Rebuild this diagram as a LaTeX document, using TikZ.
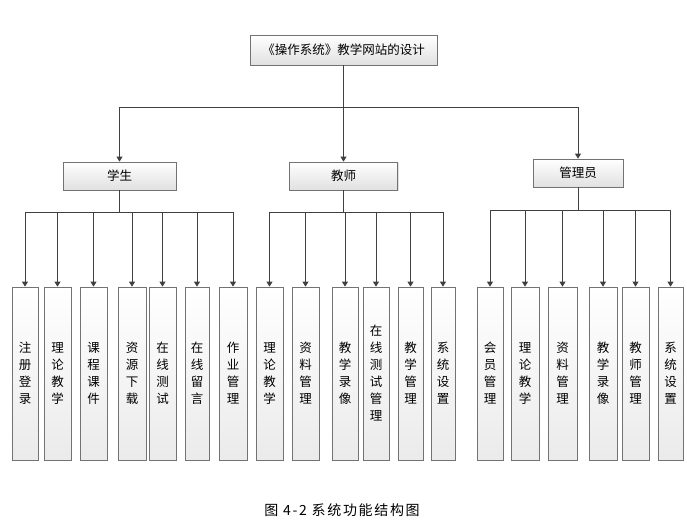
\documentclass[tikz,border=0pt]{standalone}
\usepackage{fontspec}
\setmainfont{Noto Sans CJK SC}
\usetikzlibrary{arrows.meta,shadows}

\begin{document}
\begin{tikzpicture}[x=1pt,y=-1pt,
  hbox/.style={draw=black!55,line width=0.7pt,top color=white,bottom color=black!12,
    drop shadow={shadow xshift=1.2pt,shadow yshift=-1.2pt,opacity=0.25},
    inner sep=0pt,font=\fontsize{12.5}{14}\selectfont},
  vbox/.style={hbox,bottom color=black!8,minimum height=173pt,align=center,font=\fontsize{12.5}{17}\selectfont},
  ln/.style={draw=black!75,line width=0.8pt},
  arr/.style={ln,-{Triangle[length=5pt,width=6pt]}}]
  \useasboundingbox (0,0) rectangle (687,523);
  % top and second level
  \node[hbox,minimum width=187pt,minimum height=30pt] (T) at (343.5,50) {《操作系统》教学网站的设计};
  \node[hbox,minimum width=113pt,minimum height=28pt] (S) at (119.5,176) {学生};
  \node[hbox,minimum width=108pt,minimum height=28pt] (J) at (343.5,176) {教师};
  \node[hbox,minimum width=90pt,minimum height=28pt] (G) at (578,173) {管理员};
  \coordinate (B) at (343.5,107);
  \draw[ln] (T) -- (B);
  \draw[arr] (B) -| (S);
  \draw[arr] (B) -- (J);
  \draw[arr] (B) -| (G);
  % student
  \coordinate (SB) at (119.5,212);
  \draw[ln,line width=1.5pt] (S) -- (SB);
  \foreach \n/\x/\w/\t in {S1/25/26/{注\\册\\登\\录},S2/57.5/27/{理\\论\\教\\学},
      S3/93.5/27/{课\\程\\课\\件},S4/132/28/{资\\源\\下\\载},S5/162.5/27/{在\\线\\测\\试},
      S6/197/24/{在\\线\\留\\言},S7/233/28/{作\\业\\管\\理}}{
    \node[vbox,minimum width=\w pt] (\n) at (\x,373.5) {\t};
    \draw[arr] (SB) -| (\n);
  }
  % teacher
  \coordinate (JB) at (343.5,212);
  \draw[ln,line width=1.5pt] (J) -- (JB);
  \foreach \n/\x/\w/\t in {J1/269.5/27/{理\\论\\教\\学},J2/305.5/27/{资\\料\\管\\理},
      J3/345/26/{教\\学\\录\\像},J4/376/26/{在\\线\\测\\试\\管\\理},
      J5/410.5/25/{教\\学\\管\\理},J6/443/24/{系\\统\\设\\置}}{
    \node[vbox,minimum width=\w pt] (\n) at (\x,373.5) {\t};
    \draw[arr] (JB) -| (\n);
  }
  % admin
  \coordinate (GB) at (578,210);
  \draw[ln] (G) -- (GB);
  \foreach \n/\x/\w/\t in {G1/490/26/{会\\员\\管\\理},G2/525/28/{理\\论\\教\\学},
      G3/562.5/29/{资\\料\\管\\理},G4/603/28/{教\\学\\录\\像},
      G5/635.5/27/{教\\师\\管\\理},G6/670.5/25/{系\\统\\设\\置}}{
    \node[vbox,minimum width=\w pt] (\n) at (\x,373.5) {\t};
    \draw[arr] (GB) -| (\n);
  }
  \node[font=\fontsize{14}{16}\selectfont\addfontfeature{LetterSpace=12}] (C) at (342,510) {图 4-2 系统功能结构图};
\end{tikzpicture}
\end{document}
